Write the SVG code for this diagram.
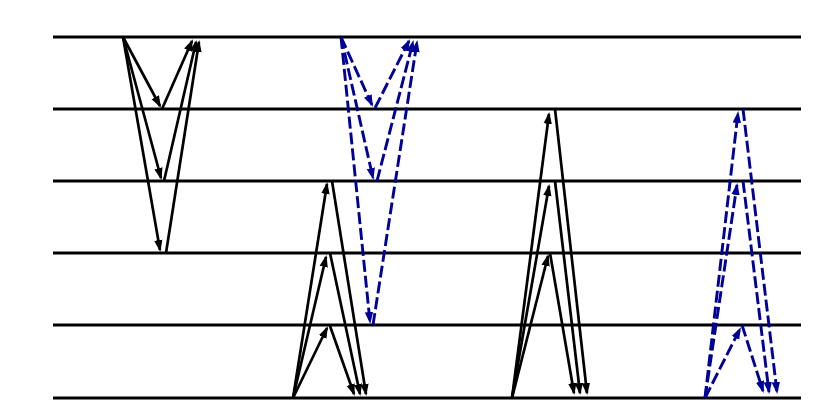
<svg xmlns="http://www.w3.org/2000/svg" width="830" height="408" viewBox="0 0 830 408">
<style>
.lvl{stroke:#000;stroke-width:3;fill:none}
.k{stroke:#000;stroke-width:2.7;fill:none;marker-end:url(#ak)}
.b{stroke:#000099;stroke-width:2.9;fill:none;stroke-dasharray:12,4;marker-end:url(#ab)}
</style>
<defs>
<marker id="ak" markerUnits="userSpaceOnUse" markerWidth="13" markerHeight="10" viewBox="0 0 13 10" refX="10" refY="5" orient="auto">
<path d="M0,0.8 L12,5 L0,9.2 z" fill="#000"/>
</marker>
<marker id="ab" markerUnits="userSpaceOnUse" markerWidth="13" markerHeight="10" viewBox="0 0 13 10" refX="10" refY="5" orient="auto">
<path d="M0,0.8 L12,5 L0,9.2 z" fill="#000099"/>
</marker>
</defs>
<rect width="830" height="408" fill="#fff"/>
<g id="levels">
<line class="lvl" x1="53" y1="37" x2="801" y2="37"/>
<line class="lvl" x1="53" y1="109" x2="801" y2="109"/>
<line class="lvl" x1="53" y1="181" x2="801" y2="181"/>
<line class="lvl" x1="53" y1="253" x2="801" y2="253"/>
<line class="lvl" x1="53" y1="325" x2="801" y2="325"/>
<line class="lvl" x1="53" y1="398" x2="801" y2="398"/>
</g>
<g id="connectors">
<g id="group1">
<line class="k" x1="123" y1="37" x2="160" y2="106"/>
<line class="k" x1="123" y1="37" x2="161" y2="178"/>
<line class="k" x1="123" y1="37" x2="160" y2="250"/>
<line class="k" x1="162" y1="109" x2="192" y2="41"/>
<line class="k" x1="164" y1="181" x2="196" y2="42"/>
<line class="k" x1="166" y1="253" x2="199" y2="42"/>
</g>
<g id="group2">
<line class="b" x1="341" y1="37" x2="372" y2="105"/>
<line class="b" x1="341" y1="37" x2="373" y2="178"/>
<line class="b" x1="341" y1="37" x2="370" y2="322"/>
<line class="b" x1="375" y1="108" x2="409" y2="41"/>
<line class="b" x1="377" y1="181" x2="413" y2="42"/>
<line class="b" x1="373" y1="325" x2="417" y2="42"/>
</g>
<g id="group3">
<line class="k" x1="293" y1="398" x2="327" y2="328"/>
<line class="k" x1="293" y1="398" x2="326" y2="257"/>
<line class="k" x1="293" y1="398" x2="327" y2="184"/>
<line class="k" x1="330" y1="326" x2="354" y2="394"/>
<line class="k" x1="330" y1="253" x2="360" y2="394"/>
<line class="k" x1="332" y1="181" x2="366" y2="394"/>
</g>
<g id="group4">
<line class="k" x1="512" y1="398" x2="549" y2="114"/>
<line class="k" x1="512" y1="398" x2="549" y2="186"/>
<line class="k" x1="512" y1="398" x2="548" y2="256"/>
<line class="k" x1="555" y1="109" x2="587" y2="393"/>
<line class="k" x1="555" y1="181" x2="580" y2="393"/>
<line class="k" x1="550" y1="253" x2="574" y2="393"/>
</g>
<g id="group5">
<line class="b" x1="705" y1="398" x2="738" y2="113"/>
<line class="b" x1="705" y1="398" x2="737" y2="185"/>
<line class="b" x1="705" y1="398" x2="740" y2="329"/>
<line class="b" x1="743" y1="109" x2="777" y2="392"/>
<line class="b" x1="743" y1="181" x2="769" y2="392"/>
<line class="b" x1="742" y1="325" x2="763" y2="391"/>
</g>
</g>
</svg>
